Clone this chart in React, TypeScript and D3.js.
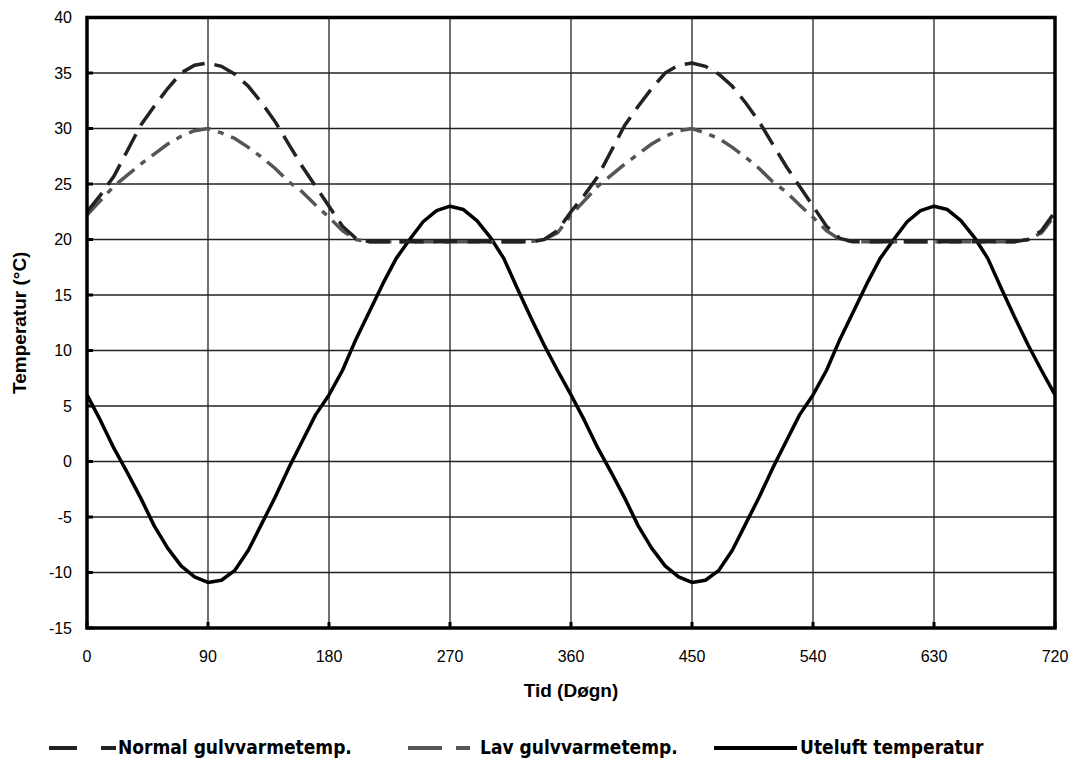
import React from "react";
import * as d3 from "d3";

const days: number[] = d3.range(0, 721, 10);

const outdoor: number[] = [
  6, 3.7, 1.2, -1.0, -3.3, -5.8, -7.8, -9.4, -10.4, -10.9, -10.7, -9.8, -8.0, -5.6, -3.2, -0.6, 1.8, 4.2,
  6.0, 8.2, 11.0, 13.5, 16.0, 18.3, 20.0, 21.6, 22.6, 23.0, 22.7, 21.7, 20.2, 18.3, 15.6, 13.0, 10.5, 8.2,
  6.0, 3.7, 1.2, -1.0, -3.3, -5.8, -7.8, -9.4, -10.4, -10.9, -10.7, -9.8, -8.0, -5.6, -3.2, -0.6, 1.8, 4.2,
  6.0, 8.2, 11.0, 13.5, 16.0, 18.3, 20.0, 21.6, 22.6, 23.0, 22.7, 21.7, 20.2, 18.3, 15.6, 13.0, 10.5, 8.2,
  6.0,
];

const normalFloor: number[] = [
  22.5, 24.0, 25.7, 28.0, 30.3, 32.0, 33.6, 35.0, 35.7, 35.9, 35.6, 34.9, 33.8, 32.3, 30.6, 28.6, 26.6, 24.8,
  23.0, 21.2, 20.1, 19.8, 19.8, 19.8, 19.8, 19.8, 19.8, 19.8, 19.8, 19.8, 19.8, 19.8, 19.8, 19.8, 20.0, 20.8,
  22.5, 24.0, 25.7, 28.0, 30.3, 32.0, 33.6, 35.0, 35.7, 35.9, 35.6, 34.9, 33.8, 32.3, 30.6, 28.6, 26.6, 24.8,
  23.0, 21.2, 20.1, 19.8, 19.8, 19.8, 19.8, 19.8, 19.8, 19.8, 19.8, 19.8, 19.8, 19.8, 19.8, 19.8, 20.0, 20.8,
  22.5,
];

const lowFloor: number[] = [
  22.2, 23.5, 24.8, 25.8, 26.8, 27.7, 28.6, 29.3, 29.8, 30.0, 29.6, 29.1, 28.3, 27.4, 26.4, 25.2, 24.3, 23.1,
  22.0, 20.8, 20.0, 19.8, 19.8, 19.8, 19.8, 19.8, 19.8, 19.8, 19.8, 19.8, 19.8, 19.8, 19.8, 19.8, 20.0, 20.6,
  22.2, 23.5, 24.8, 25.8, 26.8, 27.7, 28.6, 29.3, 29.8, 30.0, 29.6, 29.1, 28.3, 27.4, 26.4, 25.2, 24.3, 23.1,
  22.0, 20.8, 20.0, 19.8, 19.8, 19.8, 19.8, 19.8, 19.8, 19.8, 19.8, 19.8, 19.8, 19.8, 19.8, 19.8, 20.0, 20.6,
  22.2,
];

const xTicks: number[] = [0, 90, 180, 270, 360, 450, 540, 630, 720];
const yTicks: number[] = [-15, -10, -5, 0, 5, 10, 15, 20, 25, 30, 35, 40];

const seriesNames = ["Normal gulvvarmetemp.", "Lav gulvvarmetemp.", "Uteluft temperatur"];

export default function App() {
  const W = 1074;
  const H = 762;
  const left = 87;
  const right = 1055;
  const top = 17.5;
  const bottom = 628;

  const x = d3.scaleLinear().domain([0, 720]).range([left, right]);
  const y = d3.scaleLinear().domain([-15, 40]).range([bottom, top]);

  const line = (vals: number[]) =>
    d3
      .line<number>()
      .x((_, i) => x(days[i]))
      .y((v) => y(v))(vals) || "";

  const font = "'Liberation Sans', Arial, sans-serif";
  const narrow = "'Liberation Sans Narrow', 'DejaVu Sans Condensed', 'Liberation Sans', sans-serif";

  return (
    <svg
      width={W}
      height={H}
      style={{ position: "absolute", left: 0, top: 0, background: "#fff" }}
      fontFamily={font}
    >
      <rect x={0} y={0} width={W} height={H} fill="#fff" />
      {/* grid */}
      {yTicks.map((t) => (
        <line key={"gy" + t} x1={left} x2={right} y1={y(t)} y2={y(t)} stroke="#222" strokeWidth={1.3} />
      ))}
      {xTicks.map((t) => (
        <line key={"gx" + t} x1={x(t)} x2={x(t)} y1={top} y2={bottom} stroke="#222" strokeWidth={1.3} />
      ))}
      {/* ticks */}
      {yTicks.map((t) => (
        <line key={"ty" + t} x1={left} x2={left + 6} y1={y(t)} y2={y(t)} stroke="#000" strokeWidth={3} />
      ))}
      {xTicks.map((t) => (
        <line key={"tx" + t} x1={x(t)} x2={x(t)} y1={bottom} y2={bottom - 6} stroke="#000" strokeWidth={3} />
      ))}
      {/* series */}
      <path d={line(outdoor)} fill="none" stroke="#000" strokeWidth={3.5} strokeLinejoin="round" />
      <path
        d={line(lowFloor)}
        fill="none"
        stroke="#555"
        strokeWidth={3.5}
        strokeDasharray="22,8,6,8"
      />
      <path
        d={line(normalFloor)}
        fill="none"
        stroke="#222"
        strokeWidth={3.5}
        strokeDasharray="24,10"
      />
      {/* frame */}
      <rect x={left} y={top} width={right - left} height={bottom - top} fill="none" stroke="#000" strokeWidth={3.5} />
      {/* tick labels */}
      {yTicks.map((t) => (
        <text key={"ly" + t} x={72} y={y(t) + 5.5} textAnchor="end" fontSize={16} fill="#000">
          {t}
        </text>
      ))}
      {xTicks.map((t) => (
        <text key={"lx" + t} x={x(t)} y={662} textAnchor="middle" fontSize={16} fill="#000">
          {t}
        </text>
      ))}
      {/* axis titles */}
      <text x={571} y={697} textAnchor="middle" fontSize={19} fontWeight="bold">
        Tid (Døgn)
      </text>
      <text
        transform={`translate(26, ${(top + bottom) / 2}) rotate(-90)`}
        textAnchor="middle"
        fontSize={19}
        fontWeight="bold"
      >
        Temperatur (°C)
      </text>
      {/* legend */}
      <g fontFamily={narrow} fontSize={19} fontWeight="bold">
        <line x1={49} x2={77} y1={748} y2={748} stroke="#222" strokeWidth={4} />
        <line x1={101} x2={116} y1={748} y2={748} stroke="#222" strokeWidth={4} />
        <text x={118} y={754}>{seriesNames[0]}</text>
        <line x1={408} x2={442} y1={748} y2={748} stroke="#555" strokeWidth={4} />
        <line x1={456} x2={470} y1={748} y2={748} stroke="#555" strokeWidth={4} />
        <text x={480} y={754}>{seriesNames[1]}</text>
        <line x1={714} x2={797} y1={748} y2={748} stroke="#000" strokeWidth={4} />
        <text x={800} y={754}>{seriesNames[2]}</text>
      </g>
    </svg>
  );
}
